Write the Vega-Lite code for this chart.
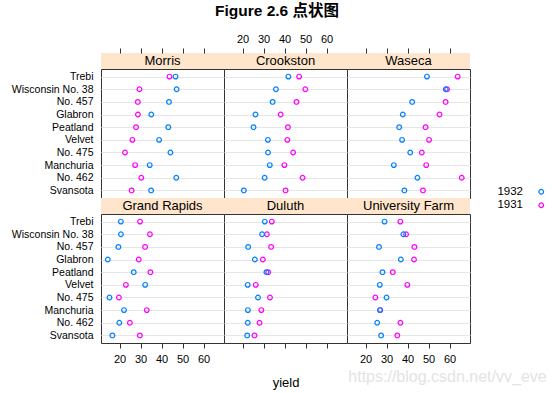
{
"$schema":"https://vega.github.io/schema/vega-lite/v6.json",
"autosize":{"type":"none"},
"padding":{"left":101,"top":53,"right":453,"bottom":340},
"title":{"text":"Figure 2.6 点状图","anchor":"start","frame":"group","align":"center","dx":176,"offset":13,"fontSize":15.5,"fontWeight":"bold","font":"Liberation Sans, Noto Sans CJK SC","color":"#000"},
"datasets":{"barley":[
{"site":"University Farm","variety":"Manchuria","year":"1931","yield":27.0},
{"site":"University Farm","variety":"Glabron","year":"1931","yield":43.07},
{"site":"University Farm","variety":"Svansota","year":"1931","yield":35.13},
{"site":"University Farm","variety":"Velvet","year":"1931","yield":39.9},
{"site":"University Farm","variety":"Trebi","year":"1931","yield":36.57},
{"site":"University Farm","variety":"No. 457","year":"1931","yield":43.27},
{"site":"University Farm","variety":"No. 462","year":"1931","yield":36.6},
{"site":"University Farm","variety":"Peatland","year":"1931","yield":32.97},
{"site":"University Farm","variety":"No. 475","year":"1931","yield":24.67},
{"site":"University Farm","variety":"Wisconsin No. 38","year":"1931","yield":39.3},
{"site":"University Farm","variety":"Manchuria","year":"1932","yield":26.9},
{"site":"University Farm","variety":"Glabron","year":"1932","yield":36.8},
{"site":"University Farm","variety":"Svansota","year":"1932","yield":27.43},
{"site":"University Farm","variety":"Velvet","year":"1932","yield":26.8},
{"site":"University Farm","variety":"Trebi","year":"1932","yield":29.07},
{"site":"University Farm","variety":"No. 457","year":"1932","yield":26.43},
{"site":"University Farm","variety":"No. 462","year":"1932","yield":25.57},
{"site":"University Farm","variety":"Peatland","year":"1932","yield":28.07},
{"site":"University Farm","variety":"No. 475","year":"1932","yield":30.0},
{"site":"University Farm","variety":"Wisconsin No. 38","year":"1932","yield":38.0},
{"site":"Waseca","variety":"Manchuria","year":"1931","yield":48.87},
{"site":"Waseca","variety":"Glabron","year":"1931","yield":55.2},
{"site":"Waseca","variety":"Svansota","year":"1931","yield":47.33},
{"site":"Waseca","variety":"Velvet","year":"1931","yield":50.23},
{"site":"Waseca","variety":"Trebi","year":"1931","yield":63.83},
{"site":"Waseca","variety":"No. 457","year":"1931","yield":58.1},
{"site":"Waseca","variety":"No. 462","year":"1931","yield":65.77},
{"site":"Waseca","variety":"Peatland","year":"1931","yield":48.57},
{"site":"Waseca","variety":"No. 475","year":"1931","yield":46.77},
{"site":"Waseca","variety":"Wisconsin No. 38","year":"1931","yield":58.8},
{"site":"Waseca","variety":"Manchuria","year":"1932","yield":33.47},
{"site":"Waseca","variety":"Glabron","year":"1932","yield":37.73},
{"site":"Waseca","variety":"Svansota","year":"1932","yield":38.5},
{"site":"Waseca","variety":"Velvet","year":"1932","yield":37.4},
{"site":"Waseca","variety":"Trebi","year":"1932","yield":49.23},
{"site":"Waseca","variety":"No. 457","year":"1932","yield":42.2},
{"site":"Waseca","variety":"No. 462","year":"1932","yield":44.7},
{"site":"Waseca","variety":"Peatland","year":"1932","yield":36.03},
{"site":"Waseca","variety":"No. 475","year":"1932","yield":41.27},
{"site":"Waseca","variety":"Wisconsin No. 38","year":"1932","yield":58.17},
{"site":"Morris","variety":"Manchuria","year":"1931","yield":27.43},
{"site":"Morris","variety":"Glabron","year":"1931","yield":28.77},
{"site":"Morris","variety":"Svansota","year":"1931","yield":25.77},
{"site":"Morris","variety":"Velvet","year":"1931","yield":26.13},
{"site":"Morris","variety":"Trebi","year":"1931","yield":43.77},
{"site":"Morris","variety":"No. 457","year":"1931","yield":28.7},
{"site":"Morris","variety":"No. 462","year":"1931","yield":30.37},
{"site":"Morris","variety":"Peatland","year":"1931","yield":27.87},
{"site":"Morris","variety":"No. 475","year":"1931","yield":22.6},
{"site":"Morris","variety":"Wisconsin No. 38","year":"1931","yield":29.47},
{"site":"Morris","variety":"Manchuria","year":"1932","yield":34.37},
{"site":"Morris","variety":"Glabron","year":"1932","yield":35.13},
{"site":"Morris","variety":"Svansota","year":"1932","yield":35.03},
{"site":"Morris","variety":"Velvet","year":"1932","yield":38.83},
{"site":"Morris","variety":"Trebi","year":"1932","yield":46.63},
{"site":"Morris","variety":"No. 457","year":"1932","yield":43.53},
{"site":"Morris","variety":"No. 462","year":"1932","yield":47.0},
{"site":"Morris","variety":"Peatland","year":"1932","yield":43.2},
{"site":"Morris","variety":"No. 475","year":"1932","yield":44.23},
{"site":"Morris","variety":"Wisconsin No. 38","year":"1932","yield":47.17},
{"site":"Crookston","variety":"Manchuria","year":"1931","yield":39.93},
{"site":"Crookston","variety":"Glabron","year":"1931","yield":38.13},
{"site":"Crookston","variety":"Svansota","year":"1931","yield":40.47},
{"site":"Crookston","variety":"Velvet","year":"1931","yield":41.33},
{"site":"Crookston","variety":"Trebi","year":"1931","yield":46.93},
{"site":"Crookston","variety":"No. 457","year":"1931","yield":45.67},
{"site":"Crookston","variety":"No. 462","year":"1931","yield":48.57},
{"site":"Crookston","variety":"Peatland","year":"1931","yield":41.6},
{"site":"Crookston","variety":"No. 475","year":"1931","yield":44.1},
{"site":"Crookston","variety":"Wisconsin No. 38","year":"1931","yield":49.87},
{"site":"Crookston","variety":"Manchuria","year":"1932","yield":32.97},
{"site":"Crookston","variety":"Glabron","year":"1932","yield":26.17},
{"site":"Crookston","variety":"Svansota","year":"1932","yield":20.63},
{"site":"Crookston","variety":"Velvet","year":"1932","yield":32.07},
{"site":"Crookston","variety":"Trebi","year":"1932","yield":41.83},
{"site":"Crookston","variety":"No. 457","year":"1932","yield":34.33},
{"site":"Crookston","variety":"No. 462","year":"1932","yield":30.53},
{"site":"Crookston","variety":"Peatland","year":"1932","yield":25.23},
{"site":"Crookston","variety":"No. 475","year":"1932","yield":32.13},
{"site":"Crookston","variety":"Wisconsin No. 38","year":"1932","yield":35.9},
{"site":"Grand Rapids","variety":"Manchuria","year":"1931","yield":32.97},
{"site":"Grand Rapids","variety":"Glabron","year":"1931","yield":29.13},
{"site":"Grand Rapids","variety":"Svansota","year":"1931","yield":29.67},
{"site":"Grand Rapids","variety":"Velvet","year":"1931","yield":23.03},
{"site":"Grand Rapids","variety":"Trebi","year":"1931","yield":29.77},
{"site":"Grand Rapids","variety":"No. 457","year":"1931","yield":32.17},
{"site":"Grand Rapids","variety":"No. 462","year":"1931","yield":24.93},
{"site":"Grand Rapids","variety":"Peatland","year":"1931","yield":34.7},
{"site":"Grand Rapids","variety":"No. 475","year":"1931","yield":19.7},
{"site":"Grand Rapids","variety":"Wisconsin No. 38","year":"1931","yield":34.47},
{"site":"Grand Rapids","variety":"Manchuria","year":"1932","yield":22.13},
{"site":"Grand Rapids","variety":"Glabron","year":"1932","yield":14.43},
{"site":"Grand Rapids","variety":"Svansota","year":"1932","yield":16.63},
{"site":"Grand Rapids","variety":"Velvet","year":"1932","yield":32.23},
{"site":"Grand Rapids","variety":"Trebi","year":"1932","yield":20.63},
{"site":"Grand Rapids","variety":"No. 457","year":"1932","yield":19.47},
{"site":"Grand Rapids","variety":"No. 462","year":"1932","yield":19.9},
{"site":"Grand Rapids","variety":"Peatland","year":"1932","yield":26.77},
{"site":"Grand Rapids","variety":"No. 475","year":"1932","yield":15.23},
{"site":"Grand Rapids","variety":"Wisconsin No. 38","year":"1932","yield":20.67},
{"site":"Duluth","variety":"Manchuria","year":"1931","yield":28.97},
{"site":"Duluth","variety":"Glabron","year":"1931","yield":29.67},
{"site":"Duluth","variety":"Svansota","year":"1931","yield":25.7},
{"site":"Duluth","variety":"Velvet","year":"1931","yield":26.3},
{"site":"Duluth","variety":"Trebi","year":"1931","yield":33.93},
{"site":"Duluth","variety":"No. 457","year":"1931","yield":33.6},
{"site":"Duluth","variety":"No. 462","year":"1931","yield":28.1},
{"site":"Duluth","variety":"Peatland","year":"1931","yield":32.2},
{"site":"Duluth","variety":"No. 475","year":"1931","yield":33.07},
{"site":"Duluth","variety":"Wisconsin No. 38","year":"1931","yield":31.6},
{"site":"Duluth","variety":"Manchuria","year":"1932","yield":22.57},
{"site":"Duluth","variety":"Glabron","year":"1932","yield":25.87},
{"site":"Duluth","variety":"Svansota","year":"1932","yield":22.23},
{"site":"Duluth","variety":"Velvet","year":"1932","yield":22.47},
{"site":"Duluth","variety":"Trebi","year":"1932","yield":30.6},
{"site":"Duluth","variety":"No. 457","year":"1932","yield":22.7},
{"site":"Duluth","variety":"No. 462","year":"1932","yield":22.5},
{"site":"Duluth","variety":"Peatland","year":"1932","yield":31.37},
{"site":"Duluth","variety":"No. 475","year":"1932","yield":27.37},
{"site":"Duluth","variety":"Wisconsin No. 38","year":"1932","yield":29.33}
]},
"columns":3,"spacing":0,"bounds":"flush","align":"each",
"concat":[
  {"width":123,"height":16,"view":{"fill":"#ffe5cc"},"data":{"values":[{"site":"Morris"}]},"mark":{"type":"text","fontSize":13,"color":"#000"},"encoding":{"text":{"field":"site"}}},
  {"width":123,"height":16,"view":{"fill":"#ffe5cc"},"data":{"values":[{"site":"Crookston"}]},"mark":{"type":"text","fontSize":13,"color":"#000"},"encoding":{"text":{"field":"site"}}},
  {"width":123,"height":16,"view":{"fill":"#ffe5cc"},"data":{"values":[{"site":"Waseca"}]},"mark":{"type":"text","fontSize":13,"color":"#000"},"encoding":{"text":{"field":"site"}}},
  {"width":123,"height":129,"data":{"name":"barley"},"transform":[{"filter":"datum.site==='Morris'"}],
   "mark":{"type":"point","filled":false,"size":22,"strokeWidth":1.2,"opacity":1},
   "encoding":{
    "x":{"field":"yield","type":"quantitative","scale":{"domain":[11.2,69.7],"nice":false,"zero":false},"axis":{"orient":"top","offset":16,"values":[20,30,40,50,60],"domain":false,"grid":false,"labels":false,"title":null}},
    "y":{"field":"variety","type":"nominal","sort":null,"scale":{"type":"point","padding":0.6,"domain":["Trebi","Wisconsin No. 38","No. 457","Glabron","Peatland","Velvet","No. 475","Manchuria","No. 462","Svansota"]},"axis":{"title":null,"grid":true,"ticks":false,"domain":false,"labelPadding":8,"labelFontSize":10.5}},
    "color":{"field":"year","type":"nominal","scale":{"domain":["1932","1931"],"range":["#0080ff","#ff00ff"]},"legend":{"title":null,"orient":"none","legendX":434.5,"legendY":133,"labelAlign":"right","labelOffset":-24,"labelFontSize":11.5,"symbolSize":22,"symbolStrokeWidth":1.2,"rowPadding":0.5,"symbolType":"circle"}}
   }},
  {"width":123,"height":129,"data":{"name":"barley"},"transform":[{"filter":"datum.site==='Crookston'"}],
   "mark":{"type":"point","filled":false,"size":22,"strokeWidth":1.2,"opacity":1},
   "encoding":{
    "x":{"field":"yield","type":"quantitative","scale":{"domain":[11.2,69.7],"nice":false,"zero":false},"axis":{"orient":"top","offset":16,"values":[20,30,40,50,60],"domain":false,"grid":false,"labels":true,"title":null}},
    "y":{"field":"variety","type":"nominal","sort":null,"scale":{"type":"point","padding":0.6,"domain":["Trebi","Wisconsin No. 38","No. 457","Glabron","Peatland","Velvet","No. 475","Manchuria","No. 462","Svansota"]},"axis":{"title":null,"grid":true,"ticks":false,"domain":false,"labels":false}},
    "color":{"field":"year","type":"nominal","scale":{"domain":["1932","1931"],"range":["#0080ff","#ff00ff"]},"legend":{"title":null,"orient":"none","legendX":434.5,"legendY":133,"labelAlign":"right","labelOffset":-24,"labelFontSize":11.5,"symbolSize":22,"symbolStrokeWidth":1.2,"rowPadding":0.5,"symbolType":"circle"}}
   }},
  {"width":123,"height":129,"data":{"name":"barley"},"transform":[{"filter":"datum.site==='Waseca'"}],
   "mark":{"type":"point","filled":false,"size":22,"strokeWidth":1.2,"opacity":1},
   "encoding":{
    "x":{"field":"yield","type":"quantitative","scale":{"domain":[11.2,69.7],"nice":false,"zero":false},"axis":{"orient":"top","offset":16,"values":[20,30,40,50,60],"domain":false,"grid":false,"labels":false,"title":null}},
    "y":{"field":"variety","type":"nominal","sort":null,"scale":{"type":"point","padding":0.6,"domain":["Trebi","Wisconsin No. 38","No. 457","Glabron","Peatland","Velvet","No. 475","Manchuria","No. 462","Svansota"]},"axis":{"title":null,"grid":true,"ticks":false,"domain":false,"labels":false}},
    "color":{"field":"year","type":"nominal","scale":{"domain":["1932","1931"],"range":["#0080ff","#ff00ff"]},"legend":{"title":null,"orient":"none","legendX":434.5,"legendY":133,"labelAlign":"right","labelOffset":-24,"labelFontSize":11.5,"symbolSize":22,"symbolStrokeWidth":1.2,"rowPadding":0.5,"symbolType":"circle"}}
   }},
  {"width":123,"height":16,"view":{"fill":"#ffe5cc"},"data":{"values":[{"site":"Grand Rapids"}]},"mark":{"type":"text","fontSize":13,"color":"#000"},"encoding":{"text":{"field":"site"}}},
  {"width":123,"height":16,"view":{"fill":"#ffe5cc"},"data":{"values":[{"site":"Duluth"}]},"mark":{"type":"text","fontSize":13,"color":"#000"},"encoding":{"text":{"field":"site"}}},
  {"width":123,"height":16,"view":{"fill":"#ffe5cc"},"data":{"values":[{"site":"University Farm"}]},"mark":{"type":"text","fontSize":13,"color":"#000"},"encoding":{"text":{"field":"site"}}},
  {"width":123,"height":129,"data":{"name":"barley"},"transform":[{"filter":"datum.site==='Grand Rapids'"}],
   "mark":{"type":"point","filled":false,"size":22,"strokeWidth":1.2,"opacity":1},
   "encoding":{
    "x":{"field":"yield","type":"quantitative","scale":{"domain":[11.2,69.7],"nice":false,"zero":false},"axis":{"orient":"bottom","values":[20,30,40,50,60],"domain":false,"grid":false,"labels":true,"labelPadding":5,"title":null}},
    "y":{"field":"variety","type":"nominal","sort":null,"scale":{"type":"point","padding":0.6,"domain":["Trebi","Wisconsin No. 38","No. 457","Glabron","Peatland","Velvet","No. 475","Manchuria","No. 462","Svansota"]},"axis":{"title":null,"grid":true,"ticks":false,"domain":false,"labelPadding":8,"labelFontSize":10.5}},
    "color":{"field":"year","type":"nominal","scale":{"domain":["1932","1931"],"range":["#0080ff","#ff00ff"]},"legend":{"title":null,"orient":"none","legendX":434.5,"legendY":133,"labelAlign":"right","labelOffset":-24,"labelFontSize":11.5,"symbolSize":22,"symbolStrokeWidth":1.2,"rowPadding":0.5,"symbolType":"circle"}}
   }},
  {"width":123,"height":129,"data":{"name":"barley"},"transform":[{"filter":"datum.site==='Duluth'"}],
   "mark":{"type":"point","filled":false,"size":22,"strokeWidth":1.2,"opacity":1},
   "encoding":{
    "x":{"field":"yield","type":"quantitative","scale":{"domain":[11.2,69.7],"nice":false,"zero":false},"axis":{"orient":"bottom","values":[20,30,40,50,60],"domain":false,"grid":false,"labels":false,"title":"yield","titlePadding":28}},
    "y":{"field":"variety","type":"nominal","sort":null,"scale":{"type":"point","padding":0.6,"domain":["Trebi","Wisconsin No. 38","No. 457","Glabron","Peatland","Velvet","No. 475","Manchuria","No. 462","Svansota"]},"axis":{"title":null,"grid":true,"ticks":false,"domain":false,"labels":false}},
    "color":{"field":"year","type":"nominal","scale":{"domain":["1932","1931"],"range":["#0080ff","#ff00ff"]},"legend":{"title":null,"orient":"none","legendX":434.5,"legendY":133,"labelAlign":"right","labelOffset":-24,"labelFontSize":11.5,"symbolSize":22,"symbolStrokeWidth":1.2,"rowPadding":0.5,"symbolType":"circle"}}
   }},
  {"width":123,"height":129,"data":{"name":"barley"},"transform":[{"filter":"datum.site==='University Farm'"}],
   "mark":{"type":"point","filled":false,"size":22,"strokeWidth":1.2,"opacity":1},
   "encoding":{
    "x":{"field":"yield","type":"quantitative","scale":{"domain":[11.2,69.7],"nice":false,"zero":false},"axis":{"orient":"bottom","values":[20,30,40,50,60],"domain":false,"grid":false,"labels":true,"labelPadding":5,"title":"https://blog.csdn.net/vv_eve","titleColor":"#e3e3e3","titleFontSize":16,"titleX":100,"titleY":33,"titleAlign":"center","titleBaseline":"middle"}},
    "y":{"field":"variety","type":"nominal","sort":null,"scale":{"type":"point","padding":0.6,"domain":["Trebi","Wisconsin No. 38","No. 457","Glabron","Peatland","Velvet","No. 475","Manchuria","No. 462","Svansota"]},"axis":{"title":null,"grid":true,"ticks":false,"domain":false,"labels":false}},
    "color":{"field":"year","type":"nominal","scale":{"domain":["1932","1931"],"range":["#0080ff","#ff00ff"]},"legend":{"title":null,"orient":"none","legendX":434.5,"legendY":133,"labelAlign":"right","labelOffset":-24,"labelFontSize":11.5,"symbolSize":22,"symbolStrokeWidth":1.2,"rowPadding":0.5,"symbolType":"circle"}}
   }}
],
"config":{
 "font":"Liberation Sans",
 "background":"#ffffff",
 "view":{"stroke":"#333333","strokeWidth":1},
 "axis":{"labelFontSize":11,"labelColor":"#000","tickColor":"#333333","tickSize":5,"tickWidth":1,"labelPadding":4,"gridColor":"#e6e6e6","gridWidth":1,"titleFontSize":13,"titleFontWeight":"normal","titleColor":"#000"},
 "legend":{"labelColor":"#000"}
}
}
